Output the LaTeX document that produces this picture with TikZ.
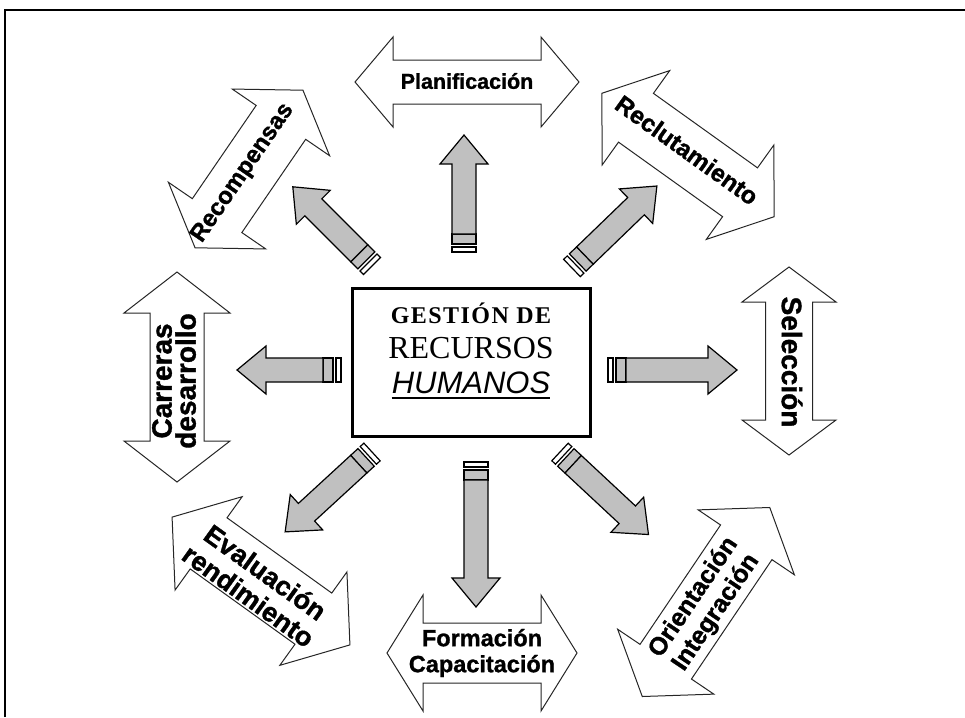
\documentclass[tikz,border=0pt]{standalone}
\usepackage{fontspec}
\setmainfont{Liberation Serif}
\setsansfont{Liberation Sans}[BoldFeatures={FakeBold=1.2}]
\usetikzlibrary{positioning}

\definecolor{grisflecha}{HTML}{C0C0C0}

% flecha doble: centro, angulo, semilargo, semiancho eje, semiancho punta, largo punta
\newcommand{\dobleflecha}[6]{%
  \begin{scope}[shift={#1}, rotate=#2]
    \draw[doble] (-#3,0) -- (-#3+#6,#5) -- (-#3+#6,#4) -- (#3-#6,#4) -- (#3-#6,#5)
      -- (#3,0) -- (#3-#6,-#5) -- (#3-#6,-#4) -- (-#3+#6,-#4) -- (-#3+#6,-#5) -- cycle;
  \end{scope}}

% flecha gris: cola, angulo, largo
\newcommand{\flechagris}[3]{%
  \begin{scope}[shift={#1}, rotate=#2]
    \draw[gris, fill=white] (0,-12) rectangle (5,12);
    \draw[gris] (8,-12) rectangle (18,12);
    \draw[gris] (18,-12) -- (#3-29,-12) -- (#3-29,-24) -- (#3,0) -- (#3-29,24) -- (#3-29,12) -- (18,12) -- cycle;
  \end{scope}}

\begin{document}
\begin{tikzpicture}[x=1pt, y=1pt,
    marco/.style={line width=2.5pt},
    caja/.style={draw, line width=3pt, minimum width=238pt, minimum height=148pt},
    doble/.style={draw=black!85, line width=1pt, fill=white},
    gris/.style={draw=black, line width=1.2pt, fill=grisflecha},
    rotulo/.style={font=\sffamily\bfseries\fontsize{22}{23}\selectfont, align=center, inner sep=0pt}]

    \useasboundingbox (0,0) rectangle (965,-717);
    \draw[marco] (5,-717) -- (5,-10) -- (965,-10);

    % centro
    \node[caja] (caja) at (471,-362) {};
    \node[anchor=base, inner sep=0pt, font=\bfseries\fontsize{24}{26}\selectfont\addfontfeatures{LetterSpace=6}] (gestion) at (471,-323) {GESTIÓN DE};
    \node[anchor=base, inner sep=0pt, font=\fontsize{32}{34}\selectfont] (recursos) at (471,-358) {RECURSOS};
    \node[anchor=base, inner sep=0pt, font=\sffamily\itshape\fontsize{31}{32}\selectfont] (humanos) at (471,-393) {HUMANOS};
    \draw[line width=2.5pt] ([yshift=-5pt]humanos.base west) -- ([yshift=-5pt]humanos.base east);

    % flechas dobles
    \dobleflecha{(467,-82)}{0}{112}{22}{45}{38}
    \dobleflecha{(249,-169)}{55.6}{95.5}{30}{59}{39}
    \dobleflecha{(688,-155)}{-35.6}{106}{30}{58}{42}
    \dobleflecha{(177,-377)}{90}{105}{27}{53}{41}
    \dobleflecha{(789,-361)}{-90}{94}{23.5}{47}{35}
    \dobleflecha{(261,-581)}{-35.7}{109.5}{31.5}{57.5}{45}
    \dobleflecha{(482,-653)}{0}{95}{30}{58}{36}
    \dobleflecha{(706,-602)}{56}{114}{31}{58}{42}

    \node[rotulo, font=\sffamily\bfseries\fontsize{21.5}{23}\selectfont] (planificacion) at (467,-81) {Planificación};
    \node[rotulo, rotate=55.6, font=\sffamily\bfseries\fontsize{24}{26}\selectfont] (recompensas) at (243,-173) {Recompensas};
    \node[rotulo, rotate=-35.6, font=\sffamily\bfseries\fontsize{24.5}{26}\selectfont] (reclutamiento) at (687,-150) {Reclutamiento};
    \node[rotulo, rotate=90, font=\sffamily\bfseries\fontsize{28}{24}\selectfont] (carreras) at (174,-381) {Carreras\\desarrollo};
    \node[rotulo, rotate=-90, font=\sffamily\bfseries\fontsize{28}{30}\selectfont] (seleccion) at (792,-362) {Selección};
    \node[rotulo, rotate=-35.7, font=\sffamily\bfseries\fontsize{27}{29}\selectfont] (evaluacion) at (257,-584) {Evaluación\\rendimiento};
    \node[rotulo, font=\sffamily\bfseries\fontsize{23.5}{26}\selectfont] (formacion) at (482,-653) {Formación\\Capacitación};
    \node[rotulo, rotate=56, font=\sffamily\bfseries\fontsize{25}{27}\selectfont] (orientacion) at (705,-605) {Orientación\\Integración};

    % flechas grises
    \flechagris{(464,-252)}{90}{117}
    \flechagris{(608,-370)}{0}{129}
    \flechagris{(341,-370)}{180}{104}
    \flechagris{(476,-462)}{-90}{145}
    \flechagris{(372,-266)}{135}{112}
    \flechagris{(572,-268)}{44}{118}
    \flechagris{(372,-452)}{222.6}{118}
    \flechagris{(560,-452)}{-43}{121}

\end{tikzpicture}
\end{document}
